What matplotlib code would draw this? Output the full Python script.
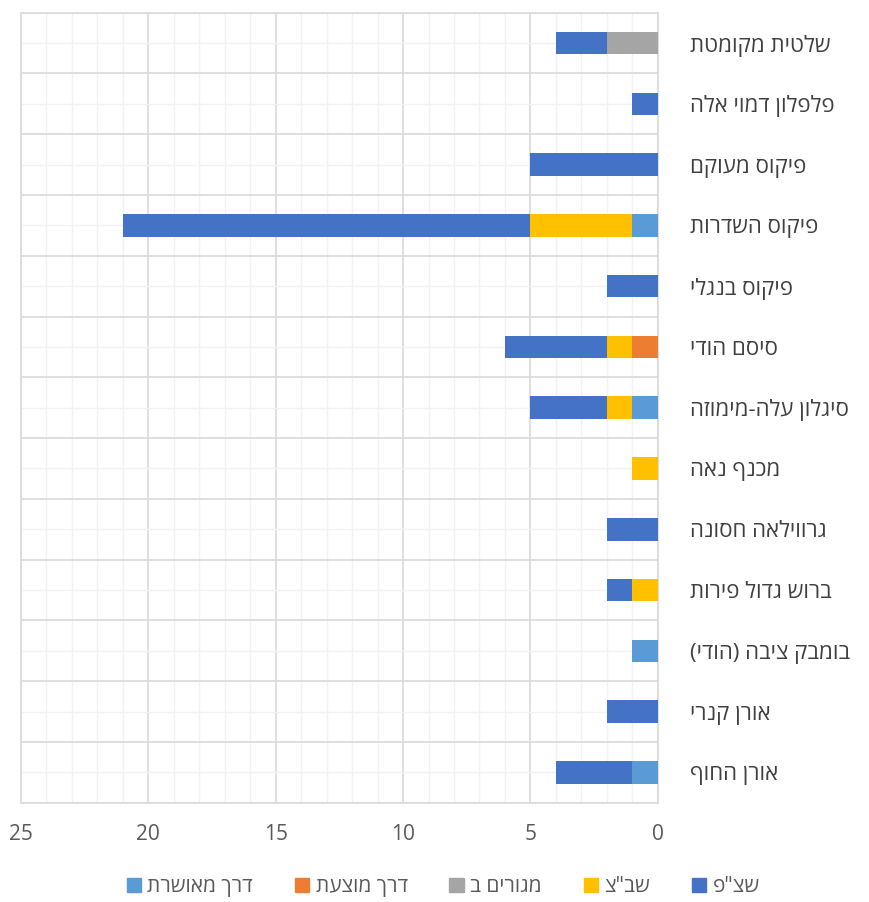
import matplotlib
matplotlib.use("Agg")
import matplotlib.pyplot as plt
import numpy as np
from matplotlib.ticker import MultipleLocator
from matplotlib.patches import Patch

plt.rcParams['font.family'] = ['Open Sans', 'DejaVu Sans']

categories = ["שלטית מקומטת", "פלפלון דמוי אלה", "פיקוס מעוקם", "פיקוס השדרות",
              "פיקוס בנגלי", "סיסם הודי", "סיגלון עלה-מימוזה", "מכנף נאה",
              "גרווילאה חסונה", "ברוש גדול פירות", "בומבק ציבה (הודי)",
              "אורן קנרי", "אורן החוף"]

series_names = ["דרך מאושרת", "דרך מוצעת", "מגורים ב", 'שב"צ', 'שצ"פ']
derech_meusheret = [0, 0, 0, 1, 0, 0, 1, 0, 0, 0, 1, 0, 1]
derech_mutzaat   = [0, 0, 0, 0, 0, 1, 0, 0, 0, 0, 0, 0, 0]
megurim_b        = [2, 0, 0, 0, 0, 0, 0, 0, 0, 0, 0, 0, 0]
shabatz          = [0, 0, 0, 4, 0, 1, 1, 1, 0, 1, 0, 0, 0]
shatzap          = [2, 1, 5, 16, 2, 4, 3, 0, 2, 1, 0, 2, 3]
colors = ["#5B9BD5", "#ED7D31", "#A5A5A5", "#FFC000", "#4472C4"]

x_ticks = [0, 5, 10, 15, 20, 25]


def rtl(s):
    r = s[::-1]
    return r.translate(str.maketrans("()", ")("))


fig = plt.figure(figsize=(8.69, 9.02), dpi=100)
ax = fig.add_axes([0.024, 0.110, 0.733, 0.876])

n = len(categories)
y = np.arange(n)
left = np.zeros(n)
data = [derech_meusheret, derech_mutzaat, megurim_b, shabatz, shatzap]
for vals, c in zip(data, colors):
    v = np.array(vals, dtype=float)
    ax.barh(y, v, left=left, height=0.37, color=c, zorder=3)
    left += v

ax.set_xlim(25, 0)
ax.set_ylim(n - 0.5, -0.5)

ax.set_xticks(x_ticks)
ax.set_xticklabels([str(t) for t in x_ticks], color="#595959", fontsize=15)
ax.xaxis.set_minor_locator(MultipleLocator(1))

ax.set_yticks(np.arange(n + 1) - 0.5)
ax.set_yticklabels([])
ax.set_yticks(y, minor=True)
ax.set_yticklabels([rtl(c) for c in categories], minor=True, color="#404040", fontsize=16)
ax.yaxis.tick_right()
for lab in ax.get_yticklabels(minor=True):
    lab.set_ha("left")
ax.tick_params(axis="y", which="both", length=0, pad=23)
ax.tick_params(axis="x", which="both", length=0, pad=15)

ax.grid(which="major", color="#D9D9D9", linewidth=1.2, zorder=0)
ax.grid(which="minor", color="#F2F2F2", linewidth=1.0, zorder=0)
ax.set_axisbelow(True)
for s in ax.spines.values():
    s.set_color("#D9D9D9")
    s.set_linewidth(1.2)

handles = [Patch(color=c, label=rtl(nm)) for c, nm in zip(colors, series_names)]
leg = fig.legend(handles=handles, loc="center", bbox_to_anchor=(0.51, 0.017),
                 ncol=5, frameon=False, fontsize=15, handlelength=0.7,
                 handleheight=0.7, handletextpad=0.3, columnspacing=2.0)
for t in leg.get_texts():
    t.set_color("#595959")

fig.savefig("out.png", dpi=100)
